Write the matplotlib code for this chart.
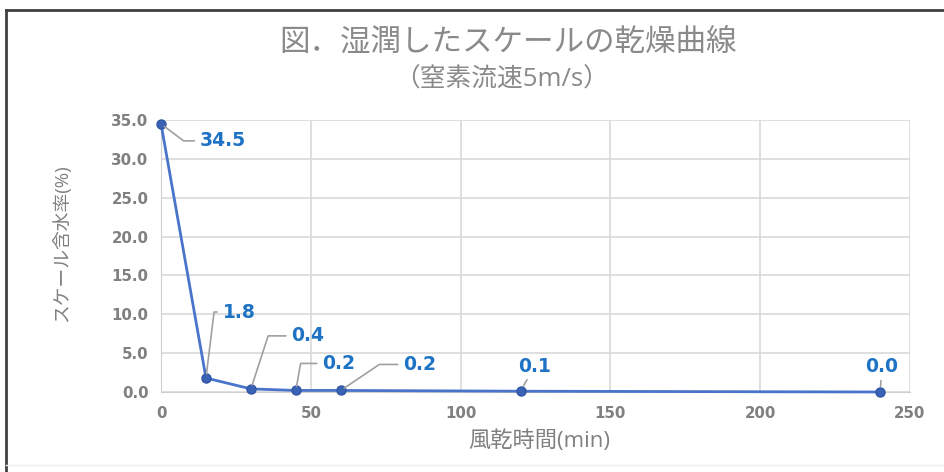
import matplotlib
matplotlib.use("Agg")
import matplotlib.pyplot as plt
from matplotlib.lines import Line2D

plt.rcParams['font.family'] = ['Open Sans', 'Noto Sans CJK JP', 'DejaVu Sans']

# 乾燥時間と含水率
minutes = [0, 15, 30, 45, 60, 120, 240]
water = [34.5, 1.8, 0.4, 0.2, 0.2, 0.1, 0.0]
labels = ["34.5", "1.8", "0.4", "0.2", "0.2", "0.1", "0.0"]

xticks = [0, 50, 100, 150, 200, 250]
yticks = [0, 5, 10, 15, 20, 25, 30, 35]

# ラベル位置 (点からのずれ px) と引き出し線の角度
offsets = [(62, -17), (33, 66), (57, 53), (43, 27), (79, 26), (14, 25), (2, 25)]
angles = [-37, 83, 72, 80, 34, None, None]

fig = plt.figure(figsize=(9.45, 4.72), dpi=100)
ax = fig.add_axes([0.1704, 0.1695, 0.7926, 0.5763])

gray = '#808080'
blue_txt = '#1f73c4'
num_font = ['DejaVu Sans']

ax.plot(minutes, water, color='#4a74c9', lw=2, marker='o', ms=6.5,
        mfc='#3a62b5', mec='#2f55a4', zorder=3, clip_on=False)

ax.set_xlim(0, 250)
ax.set_ylim(0, 35)
ax.set_xticks(xticks)
ax.set_yticks(yticks)
ax.set_yticklabels([f"{v:.1f}" for v in yticks])
ax.grid(True, color='#d9d9d9', lw=1.2)
ax.set_axisbelow(True)
for s in ['top', 'right']:
    ax.spines[s].set_visible(False)
ax.spines['left'].set_color('#d0d0d0')
ax.spines['bottom'].set_color('#d0d0d0')
ax.tick_params(length=0, labelsize=10.8, labelcolor=gray)
ax.tick_params(axis='x', pad=10)
ax.tick_params(axis='y', pad=9)
for t in ax.get_xticklabels() + ax.get_yticklabels():
    t.set_fontweight('bold')
    t.set_family(num_font)

ax.set_xlabel("風乾時間(min)", fontsize=16, color=gray)
ax.xaxis.set_label_coords(0.505, -0.14)
ax.set_ylabel("スケール含水率(%)", fontsize=13.5, color=gray)
ax.yaxis.set_label_coords(-0.12, 0.548)

for x, y, lab, off, ang in zip(minutes, water, labels, offsets, angles):
    if ang is None:
        props = dict(arrowstyle='-', color='#a0a0a0', lw=1.2, shrinkA=1, shrinkB=4)
    else:
        props = dict(arrowstyle='-', color='#a0a0a0', lw=1.2, shrinkA=2, shrinkB=3,
                     relpos=(0, 0.5),
                     connectionstyle=f"angle,angleA=0,angleB={ang},rad=0")
    ax.annotate(lab, (x, y), xytext=off, textcoords='offset pixels',
                ha='center', va='center', fontsize=13.5, fontweight='bold',
                family=num_font, color=blue_txt, arrowprops=props, zorder=4)

fig.text(0.5377, 0.909, "図．湿潤したスケールの乾燥曲線", ha='center', va='center',
         fontsize=22, color='#8a8a8a')
fig.text(0.5307, 0.831, "（窒素流速5m/s）", ha='center', va='center',
         fontsize=18.5, color='#8a8a8a')

# 外枠
fig.add_artist(Line2D([0.006, 0.006], [0.0, 0.979], color='#404040', lw=2))
fig.add_artist(Line2D([0.006, 1.0], [0.979, 0.979], color='#404040', lw=2))
fig.add_artist(Line2D([0.006, 1.0], [0.015, 0.015], color='#eeeeee', lw=1))

fig.savefig("out.png", dpi=100)
